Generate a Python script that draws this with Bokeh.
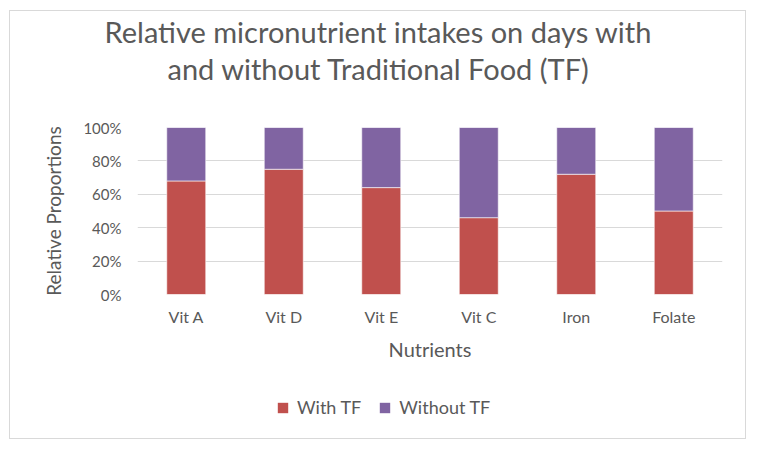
from bokeh.plotting import figure
from bokeh.layouts import column
from bokeh.models import (FactorRange, Range1d, NumeralTickFormatter, Legend, LegendItem,
                          ColumnDataSource, FixedTicker, Title)
from bokeh.embed import file_html
from bokeh.resources import INLINE

# ---- data ----
nutrients = ["Vit A", "Vit D", "Vit E", "Vit C", "Iron", "Folate"]
with_tf = [0.68, 0.75, 0.64, 0.46, 0.72, 0.50]
without_tf = [1 - v for v in with_tf]
series = ["With TF", "Without TF"]
colors = ["#C0504D", "#8064A2"]
title_lines = ["Relative micronutrient intakes on days with", "and without Traditional Food (TF)"]
y_ticks = [0, 0.2, 0.4, 0.6, 0.8, 1.0]

FONT = "Lato"
GREY = "#595959"
W = 735
HEAD_H, MAIN_H, FOOT_H = 100, 260, 67
ML, MT, MR, MB = 127, 16, 23, 77


def blank(height, x_range, y_range, top=0):
    f = figure(width=W, height=height, x_range=x_range, y_range=y_range,
               output_backend="svg", toolbar_location=None,
               min_border=0, min_border_left=0, min_border_right=0, min_border_top=top, min_border_bottom=0,
               x_axis_location=None, y_axis_location=None)
    f.grid.visible = False
    f.outline_line_color = None
    f.background_fill_color = "white"
    f.border_fill_color = "white"
    return f


# ---- header: two title lines as stacked titles (centred over the whole chart via offsets) ----
head = blank(HEAD_H, Range1d(0, 1), Range1d(0, 1), top=18)
head.add_layout(Title(text=title_lines[1], align="left", offset=30, standoff=0,
                      text_font=FONT, text_font_size="29px", text_font_style="normal",
                      text_color=GREY), "above")
head.add_layout(Title(text=title_lines[0], align="left", offset=-33, standoff=0,
                      text_font=FONT, text_font_size="29px", text_font_style="normal",
                      text_color=GREY), "above")

# ---- main chart ----
source = ColumnDataSource(dict(nutrient=nutrients, **{"With TF": with_tf, "Without TF": without_tf}))

p = figure(width=W, height=MAIN_H, x_range=FactorRange(*nutrients, range_padding=0),
           y_range=Range1d(0, 1), output_backend="svg", toolbar_location=None,
           min_border_left=ML, min_border_top=MT, min_border_right=MR, min_border_bottom=MB)
p.outline_line_color = None
p.background_fill_color = "white"
p.border_fill_color = "white"

p.vbar_stack(series, x="nutrient", width=0.4, source=source, color=colors,
             line_color="white", line_width=0.6)

for ax in (p.xaxis[0], p.yaxis[0]):
    ax.axis_line_color = None
    ax.major_tick_line_color = None
    ax.minor_tick_line_color = None
    ax.major_tick_out = 0
    ax.major_tick_in = 0
    ax.major_label_text_color = GREY
    ax.major_label_text_font = FONT
    ax.axis_label_text_color = GREY
    ax.axis_label_text_font = FONT
    ax.axis_label_text_font_style = "normal"

p.yaxis[0].ticker = FixedTicker(ticks=y_ticks)
p.yaxis[0].formatter = NumeralTickFormatter(format="0%")
p.yaxis[0].axis_label = "Relative Proportions"
p.yaxis[0].axis_label_text_font_size = "19px"
p.yaxis[0].major_label_text_font_size = "15px"
p.yaxis[0].major_label_standoff = 16
p.yaxis[0].axis_label_standoff = 15
p.xaxis[0].axis_label = "Nutrients"
p.xaxis[0].axis_label_text_font_size = "20px"
p.xaxis[0].major_label_text_font_size = "16px"
p.xaxis[0].major_label_standoff = 12
p.xaxis[0].axis_label_standoff = 8

p.xgrid.grid_line_color = None
p.ygrid.grid_line_color = "#d9d9d9"
p.ygrid.grid_line_width = 1.2

# ---- footer: legend (its swatch renderers lie outside the footer's visible y range) ----
foot = blank(FOOT_H, FactorRange(*nutrients, range_padding=0), Range1d(2, 3))
swatches = [foot.vbar(x="nutrient", top=s, width=0.4, source=source, color=c, line_color=None)
            for s, c in zip(series, colors)]
legend = Legend(items=[LegendItem(label=s, renderers=[r]) for s, r in zip(series, swatches)],
                orientation="horizontal", location=(139, 20),
                label_text_font=FONT, label_text_font_size="18px", label_text_color=GREY,
                glyph_width=13, glyph_height=13, spacing=17, label_standoff=8,
                border_line_color=None, background_fill_alpha=0, padding=0, margin=0)
foot.add_layout(legend, "center")

layout = column(head, p, foot, spacing=0, margin=(10, 0, 0, 9),
                styles={"border": "1px solid #d9d9d9"})

open("out.html", "w").write(file_html(layout, INLINE))
